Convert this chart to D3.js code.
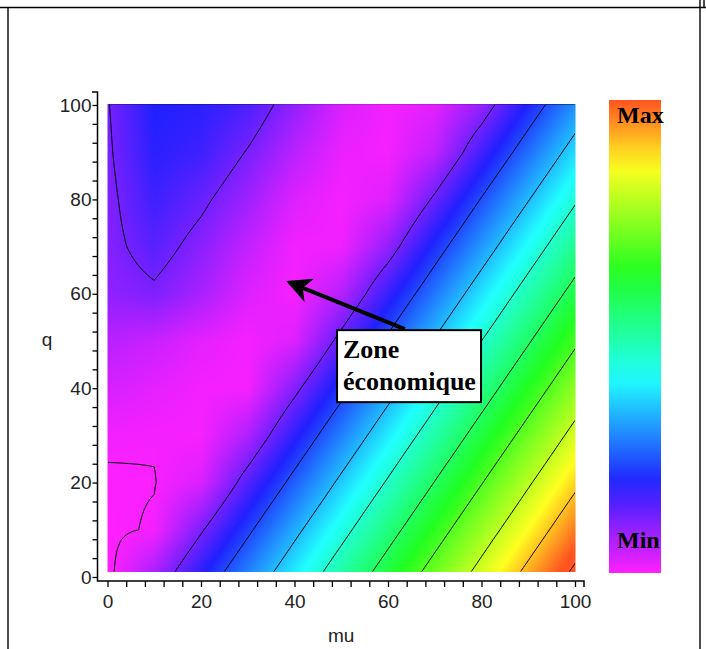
<!DOCTYPE html>
<html lang="fr">
<head>
<meta charset="utf-8">
<title>Zone économique</title>
<script src="https://cdn.jsdelivr.net/npm/d3@7"></script>
<style>
    body { margin: 0; background: #fff; }
    svg { display: block; }
</style>
</head>
<body>
<div id="graphique"></div>
<script>
// Grille : colonnes = mu, lignes = q (de 0 à 100)
const muValues = [0, 10, 20, 30, 40, 50, 60, 70, 80, 90, 100];
const qValues = [0, 10, 20, 30, 40, 50, 60, 70, 80, 90, 100];
const costRows = [
    [0.90, 1.65, 2.60, 3.55, 4.49, 5.44, 6.39, 7.34, 8.28, 9.23, 10.19], // q = 0
    [0.94, 1.03, 1.94, 2.89, 3.84, 4.78, 5.73, 6.68, 7.63, 8.57, 9.52],  // q = 10
    [0.97, 0.99, 1.22, 2.23, 3.18, 4.13, 5.07, 6.02, 6.97, 7.92, 8.86],  // q = 20
    [1.04, 1.02, 1.01, 1.55, 2.52, 3.47, 4.42, 5.36, 6.31, 7.26, 8.21],  // q = 30
    [1.26, 1.15, 1.03, 1.02, 1.87, 2.81, 3.76, 4.71, 5.65, 6.60, 7.55],  // q = 40
    [1.48, 1.35, 1.15, 1.02, 1.20, 2.16, 3.10, 4.05, 5.00, 5.94, 6.89],  // q = 50
    [1.78, 1.92, 1.60, 1.20, 1.01, 1.50, 2.45, 3.39, 4.34, 5.29, 6.23],  // q = 60
    [1.86, 2.20, 1.83, 1.40, 1.04, 1.06, 1.76, 2.74, 3.68, 4.63, 5.58],  // q = 70
    [1.88, 2.40, 2.10, 1.67, 1.20, 1.02, 1.20, 2.08, 3.03, 3.97, 4.92],  // q = 80
    [1.93, 2.55, 2.40, 1.97, 1.47, 1.10, 1.02, 1.42, 2.37, 3.31, 4.26],  // q = 90
    [1.97, 2.64, 2.55, 2.30, 1.76, 1.23, 1.03, 1.16, 1.74, 2.66, 3.60]   // q = 100
];
const contourLevels = [1, 2, 3, 4, 5, 6, 7, 8, 9, 10];
const tickLabels = [0, 20, 40, 60, 80, 100];
const colorbarDomain = [0.95, 9.8];          // valeurs des bornes Min / Max
const colorbarLabels = ['Max', 'Min'];
const hueStops = [0, 0.19, 0.41, 0.636, 0.86, 1];
const hueValues = [300, 240, 180, 120, 60, 14];
const annotationLines = ['Zone', 'économique'];

const width = 706, height = 649;
const svg = d3.select('#graphique').append('svg')
    .attr('width', width)
    .attr('height', height);

// Echelles
const x = d3.scaleLinear([0, 100], [107.5, 575]);
const y = d3.scaleLinear([0, 100], [577, 105]);
const toT = d3.scaleLinear(colorbarDomain, [0, 1]).clamp(true);
const hue = d3.scaleLinear(hueStops, hueValues);
const colorOfT = t => d3.hsl(hue(t), 1, 0.563);
const colorOf = v => colorOfT(toT(v));

// Interpolation bilinéaire de la grille (rendu)
function champ(mu, q) {
    const i = Math.max(0, Math.min(muValues.length - 2, d3.bisectRight(muValues, mu) - 1));
    const j = Math.max(0, Math.min(qValues.length - 2, d3.bisectRight(qValues, q) - 1));
    const fx = (mu - muValues[i]) / (muValues[i + 1] - muValues[i]);
    const fy = (q - qValues[j]) / (qValues[j + 1] - qValues[j]);
    const a = costRows[j][i] * (1 - fx) + costRows[j][i + 1] * fx;
    const b = costRows[j + 1][i] * (1 - fx) + costRows[j + 1][i + 1] * fx;
    return a * (1 - fy) + b * fy;
}

// Carte de couleurs
const img = { x0: x(0), x1: x(100), y0: y(100) - 1, y1: y(1) };
const cw = Math.round(img.x1 - img.x0), ch = Math.round(img.y1 - img.y0);
const canvas = document.createElement('canvas');
canvas.width = cw; canvas.height = ch;
const ctx = canvas.getContext('2d');
const pix = ctx.createImageData(cw, ch);
for (let r = 0; r < ch; r++) {
    const q = Math.max(0, Math.min(100, y.invert(img.y0 + r + 0.5)));
    for (let c = 0; c < cw; c++) {
        const mu = Math.max(0, Math.min(100, x.invert(img.x0 + c + 0.5)));
        const col = d3.rgb(colorOf(champ(mu, q)));
        const k = (r * cw + c) * 4;
        pix.data[k] = col.r; pix.data[k + 1] = col.g; pix.data[k + 2] = col.b; pix.data[k + 3] = 255;
    }
}
ctx.putImageData(pix, 0, 0);
svg.append('image')
    .attr('x', img.x0).attr('y', img.y0)
    .attr('width', cw).attr('height', ch)
    .attr('preserveAspectRatio', 'none')
    .attr('href', canvas.toDataURL());

// Lignes de niveau
const step = 0.5, n = 100 / step + 1;
const fine = new Array(n * n);
for (let r = 0; r < n; r++) {
    for (let c = 0; c < n; c++) fine[r * n + c] = champ(c * step, 100 - r * step);
}
const contours = d3.contours().size([n, n]).thresholds(contourLevels)(fine);
const proj = d3.geoTransform({
    point(cx, cy) { this.stream.point(x((cx - 0.5) * step), y(100 - (cy - 0.5) * step)); }
});
svg.append('clipPath').attr('id', 'clip-champ')
    .append('rect')
    .attr('x', img.x0 + 0.5).attr('y', img.y0 + 0.5)
    .attr('width', cw - 1).attr('height', ch - 1);
svg.append('g')
    .attr('clip-path', 'url(#clip-champ)')
    .selectAll('path')
    .data(contours)
    .enter()
    .append('path')
    .attr('d', d3.geoPath(proj))
    .attr('fill', 'none')
    .attr('stroke', '#000')
    .attr('stroke-width', 1);

// Axes
const axisColor = '#000';
const tickFont = '"Liberation Sans", Arial, sans-serif';
const xAxis = svg.append('g')
    .attr('transform', 'translate(0,581)')
    .call(d3.axisBottom(x).tickValues(d3.range(0, 101, 4))
        .tickFormat(d => tickLabels.includes(d) ? d : '')
        .tickSize(6).tickPadding(8).tickSizeOuter(0));
const yAxis = svg.append('g')
    .attr('transform', 'translate(97.5,0)')
    .call(d3.axisLeft(y).tickValues(d3.range(0, 101, 4))
        .tickFormat(d => tickLabels.includes(d) ? d : '')
        .tickSize(5).tickPadding(1).tickSizeOuter(0));
[xAxis, yAxis].forEach(g => {
    g.select('.domain').remove();
    g.selectAll('line').attr('stroke', axisColor).attr('stroke-width', 1.3);
    g.selectAll('text').attr('fill', '#222').style('font-family', tickFont).style('font-size', '19px');
});
// traits des axes prolongés comme sur l'original
svg.append('path')
    .attr('d', `M92,92H97.5V581H584V587`)
    .attr('fill', 'none').attr('stroke', axisColor).attr('stroke-width', 1.5);

svg.append('text')
    .attr('x', 47).attr('y', 346)
    .attr('text-anchor', 'middle')
    .style('font-family', tickFont).style('font-size', '19px').attr('fill', '#222')
    .text('q');
svg.append('text')
    .attr('x', x(50)).attr('y', 642)
    .attr('text-anchor', 'middle')
    .style('font-family', tickFont).style('font-size', '19px').attr('fill', '#222')
    .text('mu');

// Barre de couleurs
const grad = svg.append('defs').append('linearGradient')
    .attr('id', 'degrade').attr('x1', 0).attr('y1', 1).attr('x2', 0).attr('y2', 0);
grad.selectAll('stop')
    .data(d3.range(0, 1.0001, 0.05))
    .enter().append('stop')
    .attr('offset', d => d)
    .attr('stop-color', d => colorOfT(d));
svg.append('rect')
    .attr('x', 609).attr('y', 100).attr('width', 52).attr('height', 473)
    .attr('fill', 'url(#degrade)');
svg.selectAll('text.cb')
    .data(colorbarLabels)
    .enter().append('text')
    .attr('class', 'cb')
    .attr('x', 617)
    .attr('y', (d, i) => i === 0 ? 123 : 548)
    .style('font-family', '"Liberation Serif", "Times New Roman", serif')
    .style('font-weight', 'bold').style('font-size', '24px')
    .text(d => d);

// Annotation "Zone économique"
const tip = [x(38.2), y(62.7)], tail = [x(63.6), y(52.5)];
const dx = tip[0] - tail[0], dy = tip[1] - tail[1], len = Math.hypot(dx, dy);
const ux = dx / len, uy = dy / len;
const back = (b, s) => [tip[0] - ux * b + uy * s, tip[1] - uy * b - ux * s];
svg.append('line')
    .attr('x1', tail[0]).attr('y1', tail[1])
    .attr('x2', back(16, 0)[0]).attr('y2', back(16, 0)[1])
    .attr('stroke', '#000').attr('stroke-width', 4);
svg.append('path')
    .attr('d', `M${tip}L${back(25, 12.5)}L${back(18, 0)}L${back(25, -12.5)}Z`)
    .attr('fill', '#000');
svg.append('rect')
    .attr('x', x(49.1)).attr('y', y(52.3))
    .attr('width', 144).attr('height', 72)
    .attr('fill', '#fff').attr('stroke', '#000').attr('stroke-width', 2);
svg.selectAll('text.zone')
    .data(annotationLines)
    .enter().append('text')
    .attr('class', 'zone')
    .attr('x', x(49.1) + 6)
    .attr('y', (d, i) => y(52.3) + 28 + i * 32)
    .style('font-family', '"Liberation Serif", "Times New Roman", serif')
    .style('font-weight', 'bold').style('font-size', '26px')
    .text(d => d);

// Cadre du tableau
const frame = svg.append('g').attr('stroke', '#000').attr('stroke-width', 1.4);
frame.append('line').attr('x1', 0).attr('x2', width).attr('y1', 7.5).attr('y2', 7.5);
frame.append('line').attr('x1', 8).attr('x2', 8).attr('y1', 7.5).attr('y2', height);
frame.append('line').attr('x1', 700).attr('x2', 700).attr('y1', 0).attr('y2', height);
frame.append('line').attr('x1', 704).attr('x2', 704).attr('y1', 0).attr('y2', 7.5);
</script>
</body>
</html>
